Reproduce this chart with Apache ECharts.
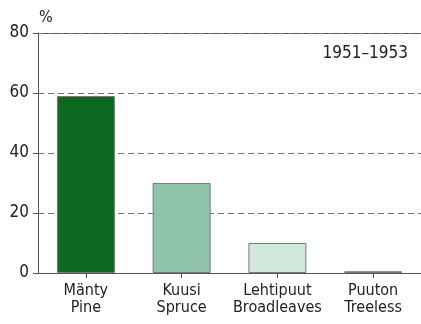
<!DOCTYPE html>
<html>
<head>
<meta charset="utf-8">
<script src="https://cdn.jsdelivr.net/npm/echarts@6/dist/echarts.min.js"></script>
<style>
  html, body { margin: 0; padding: 0; background: #fff; }
  #chart { width: 421px; height: 324px; }
</style>
</head>
<body>
<div id="chart"></div>
<script>
// Forest land by dominant tree species, 1951–1953 (% of area)
const categories = ['Mänty\nPine', 'Kuusi\nSpruce', 'Lehtipuut\nBroadleaves', 'Puuton\nTreeless'];
const shares = [59, 30, 10, 0.6];
const barColors = ['#0b6a1f', '#8fc3a7', '#d0e7dc', '#dcdcdc'];
const yTicks = [0, 20, 40, 60, 80];
const periodLabel = '1951–1953';

const FONT = '"Liberation Sans Narrow", "DejaVu Sans Condensed", "Liberation Sans", sans-serif';
const chart = echarts.init(document.getElementById('chart'), null, { renderer: 'canvas' });

chart.setOption({
  animation: false,
  backgroundColor: '#ffffff',
  grid: { left: 38, right: -2, top: 33, bottom: 51, containLabel: false },
  xAxis: {
    type: 'category',
    data: categories,
    axisLine: { lineStyle: { color: '#555', width: 1 } },
    axisTick: { show: true, alignWithLabel: true, length: 5, lineStyle: { color: '#555' } },
    axisLabel: {
      interval: 0, hideOverlap: false,
      color: '#222', fontSize: 16, fontFamily: FONT, lineHeight: 17, margin: 9
    }
  },
  yAxis: {
    type: 'value',
    min: yTicks[0],
    max: yTicks[yTicks.length - 1],
    interval: 20,
    axisLine: { show: true, lineStyle: { color: '#555', width: 1 } },
    axisTick: { show: true, length: 5, lineStyle: { color: '#555' } },
    axisLabel: { color: '#222', fontSize: 17, fontFamily: FONT, margin: 9 },
    splitLine: {
      show: true,
      lineStyle: { color: '#777', type: [6, 4], width: 1 }
    }
  },
  graphic: [
    { type: 'line', shape: { x1: 38, y1: 33.5, x2: 421, y2: 33.5 }, style: { stroke: '#555', lineWidth: 1 } },
    { type: 'text', left: 39, top: 10, style: { text: '%', fontSize: 16, fontFamily: FONT, fill: '#222' } },
    { type: 'text', right: 13, top: 45, style: { text: periodLabel, fontSize: 17, fontFamily: FONT, fill: '#222' } }
  ],
  series: [{
    type: 'bar',
    data: shares.map((v, i) => ({
      value: v,
      itemStyle: { color: barColors[i], borderColor: '#7a7a7a', borderWidth: 1 }
    })),
    barWidth: 58
  }]
});
</script>
</body>
</html>
